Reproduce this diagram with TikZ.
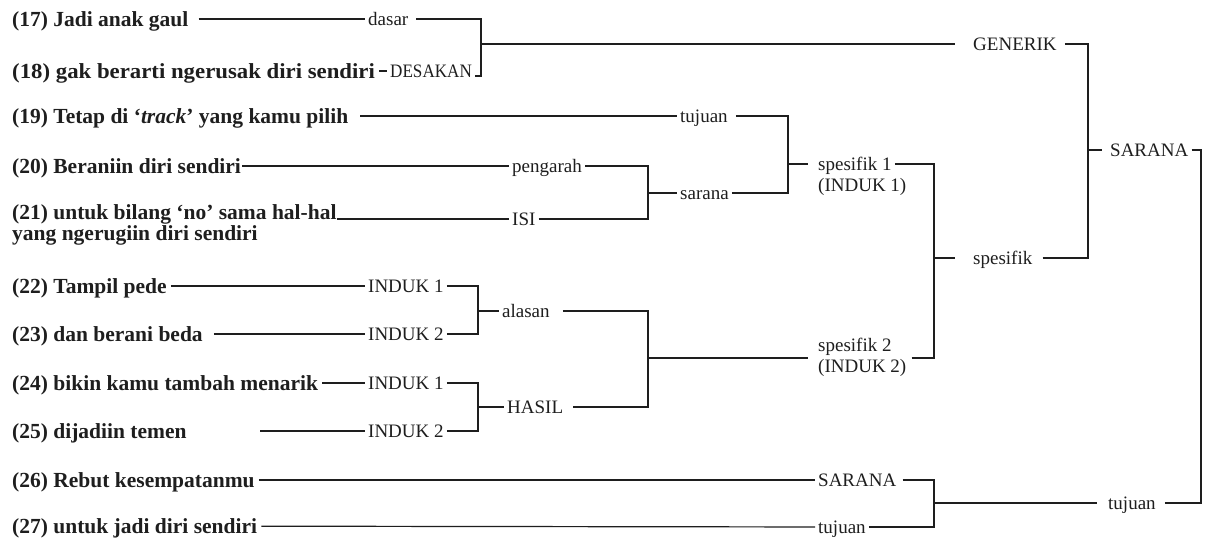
\documentclass[tikz,border=0pt]{standalone}
\usepackage{fontspec}
\setmainfont{Liberation Serif}
\newfontfamily\widebold[FakeStretch=1.06]{Liberation Serif}
\newfontfamily\narrowreg[FakeStretch=0.9]{Liberation Serif}
\definecolor{ink}{HTML}{1E1E1E}
\tikzset{
  lefttext/.style={font=\bfseries\fontsize{21.5}{21.5}\selectfont, anchor=west, inner xsep=4pt, inner ysep=0pt, text height=15pt, text depth=1pt, text=ink},
  lab/.style={font=\fontsize{19}{21}\selectfont, anchor=west, inner xsep=3pt, inner ysep=0pt, text height=13pt, text depth=1pt, text=ink},
  con/.style={draw=ink, line width=1.2pt},
}
\begin{document}
\begin{tikzpicture}[x=1pt,y=-1pt]
\useasboundingbox (0,0) rectangle (1208,539);
\fill[white] (0,0) rectangle (1208,539);

% left texts
\node[lefttext] (t17) at (8,19) {(17) Jadi anak gaul};
\node[lefttext] (t18) at (8,71) {\widebold\bfseries (18) gak berarti ngerusak diri sendiri};
\node[lefttext] (t19) at (8,116) {(19) Tetap di ‘\textit{track}’ yang kamu pilih};
\node[lefttext] (t20) at (8,166) {(20) Beraniin diri sendiri};
\node[lefttext] (t21) at (8,212) {(21) untuk bilang ‘no’ sama hal-hal};
\node[lefttext] (t21b) at (8,233) {yang ngerugiin diri sendiri};
\node[lefttext] (t22) at (8,286) {(22) Tampil pede};
\node[lefttext] (t23) at (8,334) {(23) dan berani beda};
\node[lefttext] (t24) at (8,383) {(24) bikin kamu tambah menarik};
\node[lefttext] (t25) at (8,431) {(25) dijadiin temen};
\node[lefttext] (t26) at (8,480) {(26) Rebut kesempatanmu};
\node[lefttext] (t27) at (8,526) {(27) untuk jadi diri sendiri};

% labels
\node[lab] (dasar) at (365,19) {dasar};
\node[lab] (desakan) at (387,71) {\narrowreg DESAKAN};
\node[lab] (generik) at (970,44) {GENERIK};
\node[lab] (tuj19) at (677,116) {tujuan};
\node[lab] (pengarah) at (509,166) {pengarah};
\node[lab] (isi) at (509,219) {ISI};
\node[lab] (sarana) at (677,193) {sarana};
\node[lab] (s1a) at (815,164) {spesifik 1};
\node[lab] (s1b) at (815,185) {(INDUK 1)};
\node[lab] (i1a) at (365,286) {INDUK 1};
\node[lab] (i2a) at (365,334) {INDUK 2};
\node[lab] (i1b) at (365,383) {INDUK 1};
\node[lab] (i2b) at (365,431) {INDUK 2};
\node[lab] (alasan) at (499,311) {alasan};
\node[lab] (hasil) at (504,407) {HASIL};
\node[lab] (s2a) at (815,345) {spesifik 2};
\node[lab] (s2b) at (815,366) {(INDUK 2)};
\node[lab] (spes) at (970,258) {spesifik};
\node[lab] (sarR) at (1107,150) {SARANA};
\node[lab] (sar26) at (815,480) {SARANA};
\node[lab] (tuj27) at (815,527) {tujuan};
\node[lab] (tujR) at (1105,503) {tujuan};

% junctions
\coordinate (k1) at (481,44);
\coordinate (dsk) at (475,76);
\coordinate (k2) at (788,164);
\coordinate (k3) at (648,193);
\coordinate (k4) at (478,311);
\coordinate (k5) at (478,407);
\coordinate (k6) at (648,358);
\coordinate (k7) at (934,258);
\coordinate (k8) at (1088,150);
\coordinate (k9) at (934,503);
\coordinate (k10) at (1201,326);
\coordinate (c25) at (260,431);

% connectors: 17-18
\draw[con, shorten <=6pt] (t17) -- (dasar);
\draw[con] (t18) -- (desakan);
\draw[con, shorten <=5pt] (dasar) -| (k1) |- (dsk);
\draw[con, shorten >=15pt] (k1) -- (generik);
\draw[con, shorten <=5pt] (generik) -| (k8);
\draw[con, shorten <=7pt] (spes) -| (k8);
\draw[con, shorten >=5pt] (k8) -- (sarR);
\draw[con] (sarR) -| (k10);
\draw[con, shorten <=6pt] (tujR) -| (k10);

% 19-21
\draw[con, shorten <=8pt] (t19) -- (tuj19);
\draw[con, shorten <=5pt] (tuj19) -| (k2);
\draw[con] (sarana) -| (k2);
\draw[con, shorten >=7pt] (k2) -- (s1a);
\draw[con, shorten <=-3pt] (t20) -- (pengarah);
\draw[con] (pengarah) -| (k3);
\draw[con] ([xshift=-4pt]t21.east |- isi) -- (isi);
\draw[con] (isi) -| (k3);
\draw[con] (k3) -- (sarana);
\draw[con] (s1a) -| (k7);

% 22-25
\draw[con] (t22) -- (i1a);
\draw[con, shorten <=7pt] (t23) -- (i2a);
\draw[con] (t24) -- (i1b);
\draw[con] (c25) -- (i2b);
\draw[con] (i1a) -| (k4);
\draw[con] (i2a) -| (k4);
\draw[con] (k4) -- (alasan);
\draw[con] (i1b) -| (k5);
\draw[con] (i2b) -| (k5);
\draw[con] (k5) -- (hasil);
\draw[con, shorten <=10pt] (alasan) -| (k6);
\draw[con, shorten <=7pt] (hasil) -| (k6);
\draw[con, shorten >=7pt] (k6) -- (s2a.west |- k6);
\draw[con] ([xshift=2pt]s2b.east |- k6) -| (k7);
\draw[con, shorten >=15pt] (k7) -- (spes);

% 26-27
\draw[con] (t26) -- (sar26);
\draw[con] (t27) -- (tuj27);
\draw[con, shorten <=3pt] (sar26) -| (k9);
\draw[con] (tuj27) -| (k9);
\draw[con, shorten >=8pt] (k9) -- (tujR);
\end{tikzpicture}
\end{document}
